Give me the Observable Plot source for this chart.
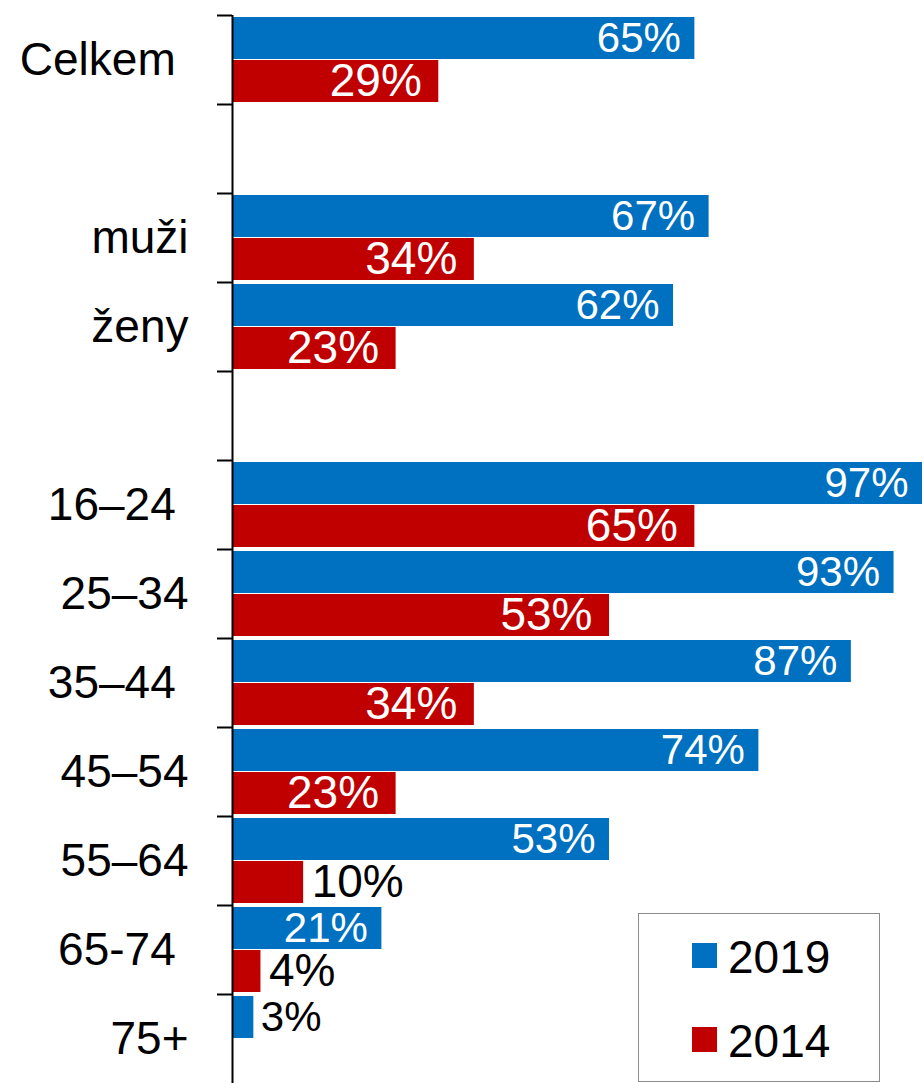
<!DOCTYPE html>
<html>
<head>
<meta charset="utf-8">
<script src="https://cdn.jsdelivr.net/npm/d3@7"></script>
<script src="https://cdn.jsdelivr.net/npm/@observablehq/plot@0.6"></script>
<style>
  html, body { margin: 0; padding: 0; background: white; }
  #wrap { position: relative; width: 924px; height: 1083px; font-family: "Liberation Sans", Arial, sans-serif; }
  #legend { position: absolute; left: 638px; top: 913px; width: 240px; height: 167px; border: 1.5px solid #8c8c8c; background: white; }
  .sw { position: absolute; left: 53px; width: 25px; height: 25px; }
  .lt { position: absolute; left: 89px; font-size: 46px; line-height: 46px; color: black; }
</style>
</head>
<body>
<div id="wrap"></div>
<script>
const ids = ["Celkem", "gap1", "muži", "ženy", "gap2", "16–24", "25–34", "35–44", "45–54", "55–64", "65-74", "75+"];
const labels = ["Celkem\u00a0", "", "muži", "ženy", "", "16–24\u00a0", "25–34", "35–44\u00a0", "45–54", "55–64", "65-74\u00a0", "75+"];
const v2019 = [65, null, 67, 62, null, 97, 93, 87, 74, 53, 21, 3];
const v2014 = [29, null, 34, 23, null, 65, 53, 34, 23, 10, 4, null];
const years = ["2019", "2014"];
const colors = ["#0070C0", "#C00000"];

const rows = ids.flatMap((id, i) => [
  {cat: id, year: "2019", v: v2019[i]},
  {cat: id, year: "2014", v: v2014[i]}
]).filter(d => d.v != null);

const W = 924, H = 1083, mT = 15, mB = 0;
const step = (H - mT - mB) / ids.length;
const r19 = rows.filter(d => d.year === "2019");
const r14 = rows.filter(d => d.year === "2014");
const inside = d => d.v >= 15;
const fmt = d => d.v + "%";

const chart = Plot.plot({
  width: W, height: H,
  marginLeft: 232, marginRight: 2, marginTop: mT, marginBottom: mB,
  style: {fontFamily: "'Liberation Sans', Arial, sans-serif", background: "white", color: "black"},
  x: {domain: [0, 97], axis: null},
  y: {domain: ids, padding: 0, label: null},
  marks: [
    Plot.barX(r19, {x: "v", y: "cat", fill: colors[0], insetTop: 2, insetBottom: 45}),
    Plot.barX(r14, {x: "v", y: "cat", fill: colors[1], insetTop: 45, insetBottom: 2}),
    Plot.text(r19.filter(inside), {x: "v", y: "cat", text: fmt, textAnchor: "end", dx: -14, dy: -21.5, fill: "white", fontSize: 42}),
    Plot.text(r14.filter(inside), {x: "v", y: "cat", text: fmt, textAnchor: "end", dx: -17, dy: 21.5, fill: "white", fontSize: 46}),
    Plot.text(r19.filter(d => !inside(d)), {x: "v", y: "cat", text: fmt, textAnchor: "start", dx: 7, dy: -21.5, fill: "black", fontSize: 42}),
    Plot.text(r14.filter(d => !inside(d)), {x: "v", y: "cat", text: fmt, textAnchor: "start", dx: 8, dy: 21.5, fill: "black", fontSize: 46}),
    Plot.ruleX([0], {stroke: "black", strokeWidth: 2}),
    Plot.axisY({tickSize: 15, tickFormat: () => "", label: null, dy: -step / 2, stroke: "black", strokeWidth: 2}),
    Plot.axisY({tickSize: 0, tickPadding: 44, fontSize: 46, label: null, tickFormat: d => labels[ids.indexOf(d)], fill: "black"})
  ]
});

const wrap = document.getElementById("wrap");
wrap.appendChild(chart);

const legend = document.createElement("div");
legend.id = "legend";
years.forEach((y, i) => {
  const sw = document.createElement("div");
  sw.className = "sw";
  sw.style.top = (29 + i * 84) + "px";
  sw.style.background = colors[i];
  legend.appendChild(sw);
  const t = document.createElement("div");
  t.className = "lt";
  t.style.top = (20 + i * 84) + "px";
  t.textContent = y;
  legend.appendChild(t);
});
wrap.appendChild(legend);
</script>
</body>
</html>
